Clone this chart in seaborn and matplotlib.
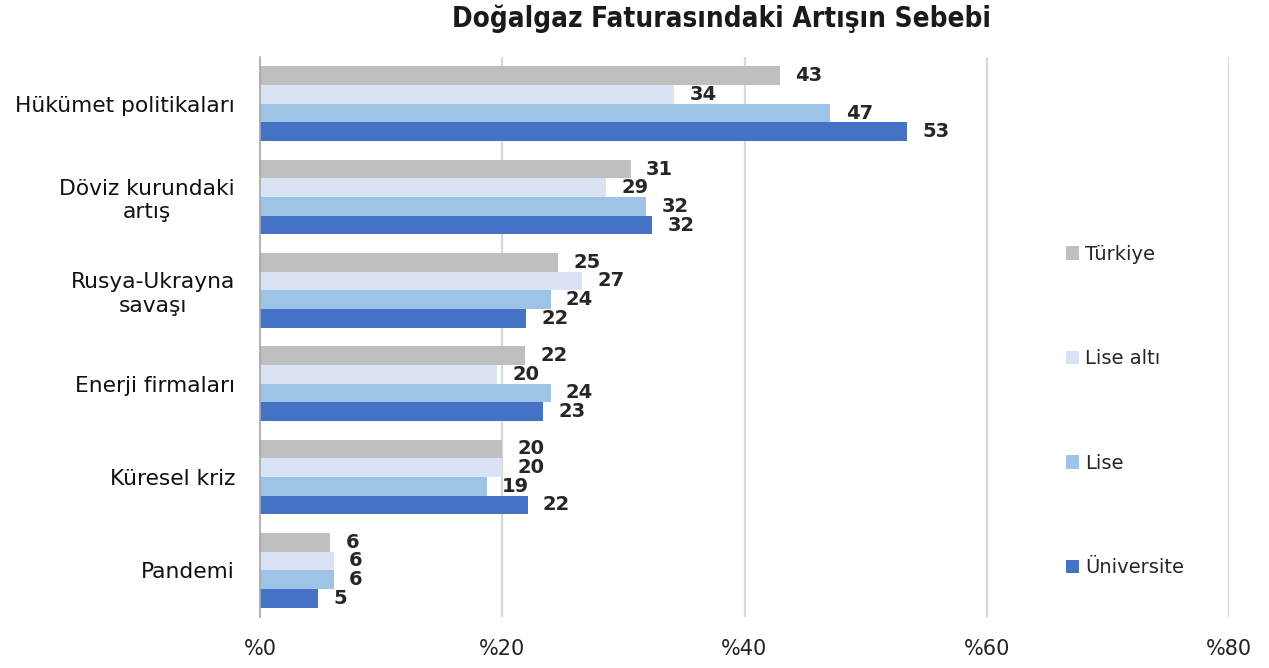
import matplotlib
matplotlib.use("Agg")
import matplotlib.pyplot as plt
import seaborn as sns
import pandas as pd
import numpy as np
from matplotlib.ticker import FixedLocator

categories = ["Hükümet politikaları", "Döviz kurundaki\nartış", "Rusya-Ukrayna\nsavaşı",
              "Enerji firmaları", "Küresel kriz", "Pandemi"]
series = ["Türkiye", "Lise altı", "Lise", "Üniversite"]
turkiye = [42.9, 30.6, 24.6, 21.9, 20.0, 5.8]
lise_alti = [34.2, 28.6, 26.6, 19.6, 20.0, 6.1]
lise = [47.1, 31.9, 24.0, 24.0, 18.7, 6.1]
universite = [53.4, 32.4, 22.0, 23.4, 22.1, 4.8]
colors = ["#BFBFBF", "#DAE3F3", "#9DC3E6", "#4472C4"]
xticks = [0, 20, 40, 60, 80]
xticklabels = ["%0", "%20", "%40", "%60", "%80"]
title = "Doğalgaz Faturasındaki Artışın Sebebi"

rows = []
for s, vals in zip(series, [turkiye, lise_alti, lise, universite]):
    for c, v in zip(categories, vals):
        rows.append({"Kategori": c, "Grup": s, "Değer": v})
df = pd.DataFrame(rows)

sns.set_style("white")
plt.rcParams["font.family"] = ["DejaVu Sans"]

fig = plt.figure(figsize=(12.69, 6.68), dpi=100)
ax = fig.add_axes([260 / 1269, 1 - 617 / 668, 969 / 1269, 560 / 668])

sns.barplot(data=df, y="Kategori", x="Değer", hue="Grup", order=categories,
            hue_order=series, palette=colors, orient="h", width=0.8,
            saturation=1, ax=ax, linewidth=0, errorbar=None)

for cont in ax.containers:
    ax.bar_label(cont, fmt="%.0f", padding=11, fontsize=14, fontweight="heavy",
                 color="#262626")

ax.set_xlim(0, 80)
ax.set_ylim(5.5, -0.5)
ax.set_xticks(xticks)
ax.set_xticklabels(xticklabels, fontsize=15, color="#222222")
ax.set_xlabel("")
ax.set_ylabel("")
ax.grid(False)
for x in xticks[1:]:
    ax.axvline(x, color="#D9D9D9", lw=1.6, zorder=0)
ax.set_axisbelow(True)

for sp in ["top", "right", "bottom"]:
    ax.spines[sp].set_visible(False)
ax.spines["left"].set_color("#A6A6A6")
ax.spines["left"].set_linewidth(1.2)

ax.tick_params(axis="x", length=0, pad=16)
ax.tick_params(axis="y", which="major", length=0, pad=18, labelsize=15.7, labelcolor="#111111")
ax.yaxis.set_minor_locator(FixedLocator(np.arange(-0.5, 6.0, 1.0)))
ax.tick_params(axis="y", which="minor", length=6, width=1.2, color="#A6A6A6", direction="out")
for lbl in ax.get_yticklabels():
    lbl.set_multialignment("center")

handles, labels = ax.get_legend_handles_labels()
ax.get_legend().remove()
fig.legend(handles, labels, loc="center left", bbox_to_anchor=(1058 / 1269, 1 - 411 / 668),
           frameon=False, fontsize=14, labelspacing=4.4, handlelength=0.7,
           handleheight=0.7, handletextpad=0.3, borderaxespad=0)

fig.text(721 / 1269, 1 - 19 / 668, title, ha="center", va="center", fontsize=20,
         fontweight="bold", fontstretch="condensed", family=["DejaVu Sans"], color="#1a1a1a")

fig.savefig("out.png", dpi=100, facecolor="white")
